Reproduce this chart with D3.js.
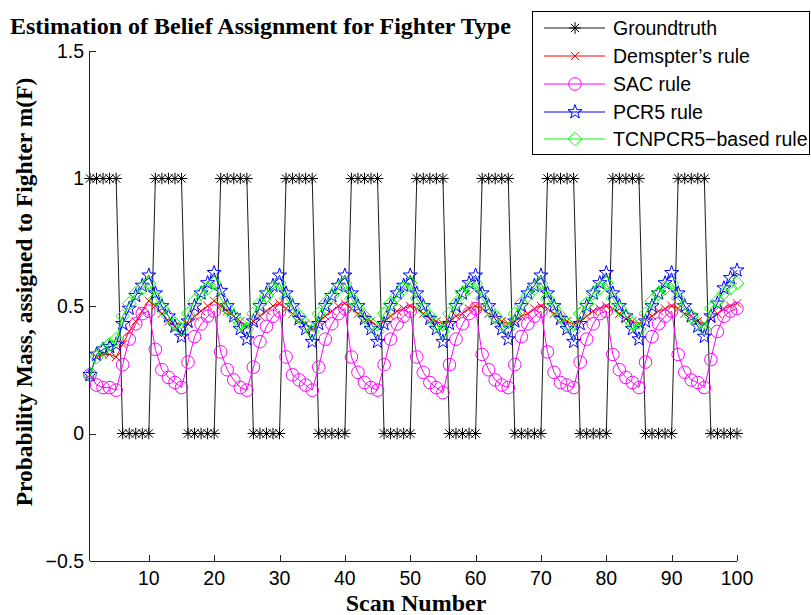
<!DOCTYPE html>
<html><head><meta charset="utf-8">
<script src="https://cdn.jsdelivr.net/npm/d3@7"></script>
<style>body{margin:0;background:#fff}svg{display:block}</style>
</head><body>
<svg id="c" width="811" height="615"></svg>
<script>
const scans = d3.range(1, 101);
const xTicks = [10,20,30,40,50,60,70,80,90,100];
const yTicks = [-0.5,0,0.5,1,1.5];
const yTickLabels = ["\u22120.5","0","0.5","1","1.5"];
const seriesNames = ["Groundtruth","Demspter\u2019s rule","SAC rule","PCR5 rule","TCNPCR5\u2212based rule"];

const groundtruth = [1,1,1,1,1,0,0,0,0,0, 1,1,1,1,1,0,0,0,0,0, 1,1,1,1,1,0,0,0,0,0, 1,1,1,1,1,0,0,0,0,0, 1,1,1,1,1,0,0,0,0,0,
  1,1,1,1,1,0,0,0,0,0, 1,1,1,1,1,0,0,0,0,0, 1,1,1,1,1,0,0,0,0,0, 1,1,1,1,1,0,0,0,0,0, 1,1,1,1,1,0,0,0,0,0];
const dempster = [0.23,0.30,0.31,0.31,0.30, 0.35,0.40,0.44,0.48,0.52, 0.50,0.47,0.44,0.42,0.39, 0.43,0.46,0.48,0.50,0.52,
  0.50,0.48,0.46,0.44,0.42, 0.44,0.46,0.48,0.50,0.51, 0.49,0.47,0.45,0.43,0.41, 0.44,0.46,0.48,0.50,0.51,
  0.49,0.47,0.45,0.44,0.42, 0.44,0.46,0.48,0.49,0.50, 0.49,0.47,0.45,0.44,0.43, 0.44,0.46,0.47,0.49,0.50,
  0.49,0.47,0.46,0.44,0.43, 0.44,0.46,0.47,0.49,0.50, 0.49,0.47,0.45,0.44,0.43, 0.44,0.46,0.48,0.49,0.50,
  0.49,0.47,0.45,0.44,0.43, 0.45,0.46,0.48,0.49,0.50, 0.49,0.47,0.46,0.44,0.43, 0.45,0.47,0.49,0.50,0.51];
const sac = [0.23,0.19,0.18,0.18,0.17, 0.27,0.37,0.43,0.47,0.48, 0.33,0.25,0.22,0.20,0.18, 0.28,0.38,0.43,0.46,0.48,
  0.32,0.25,0.21,0.18,0.17, 0.26,0.36,0.42,0.46,0.48, 0.30,0.23,0.21,0.19,0.17, 0.26,0.37,0.43,0.47,0.49,
  0.30,0.24,0.20,0.18,0.17, 0.27,0.37,0.43,0.46,0.48, 0.30,0.24,0.20,0.18,0.16, 0.27,0.37,0.43,0.47,0.49,
  0.31,0.25,0.21,0.19,0.18, 0.27,0.38,0.43,0.46,0.48, 0.32,0.24,0.20,0.19,0.18, 0.28,0.37,0.43,0.47,0.48,
  0.31,0.25,0.22,0.20,0.18, 0.28,0.38,0.43,0.46,0.48, 0.31,0.24,0.21,0.20,0.18, 0.29,0.40,0.46,0.48,0.49];
const pcr5 = [0.23,0.31,0.33,0.34,0.35, 0.43,0.49,0.54,0.58,0.62, 0.55,0.50,0.46,0.42,0.38, 0.44,0.50,0.55,0.59,0.63,
  0.56,0.50,0.46,0.41,0.37, 0.44,0.50,0.55,0.58,0.62, 0.55,0.50,0.45,0.41,0.36, 0.43,0.50,0.54,0.58,0.62,
  0.55,0.50,0.45,0.41,0.36, 0.43,0.50,0.55,0.58,0.62, 0.55,0.50,0.45,0.41,0.36, 0.43,0.50,0.55,0.59,0.62,
  0.55,0.50,0.45,0.41,0.37, 0.44,0.50,0.55,0.58,0.62, 0.55,0.50,0.45,0.41,0.36, 0.43,0.50,0.55,0.59,0.63,
  0.55,0.50,0.46,0.41,0.37, 0.44,0.50,0.55,0.59,0.63, 0.55,0.50,0.46,0.42,0.38, 0.46,0.51,0.57,0.61,0.64];
const tcnpcr5 = [0.23,0.30,0.33,0.35,0.37, 0.46,0.51,0.55,0.57,0.59, 0.53,0.49,0.46,0.43,0.41, 0.47,0.52,0.55,0.57,0.59,
  0.53,0.49,0.46,0.43,0.41, 0.47,0.51,0.54,0.57,0.59, 0.53,0.49,0.46,0.43,0.40, 0.47,0.51,0.54,0.57,0.59,
  0.53,0.49,0.46,0.43,0.40, 0.47,0.51,0.54,0.57,0.59, 0.53,0.49,0.46,0.43,0.40, 0.47,0.51,0.55,0.57,0.59,
  0.53,0.49,0.46,0.43,0.41, 0.47,0.51,0.54,0.57,0.59, 0.53,0.49,0.46,0.43,0.40, 0.47,0.51,0.55,0.57,0.59,
  0.53,0.49,0.46,0.43,0.41, 0.47,0.52,0.55,0.57,0.59, 0.53,0.49,0.46,0.43,0.41, 0.49,0.52,0.55,0.57,0.59];

const svg = d3.select("#c");
const x = d3.scaleLinear().domain([1,100]).range([90,737]);
const y = d3.scaleLinear().domain([-0.5,1.5]).range([561,51]);
const sans = "'Liberation Sans', Arial, Helvetica, sans-serif";
const serif = "'Liberation Serif', 'Times New Roman', serif";

const markers = {
  asterisk: s => `M${-s},0L${s},0M0,${-s}L0,${s}M${-s*0.72},${-s*0.72}L${s*0.72},${s*0.72}M${-s*0.72},${s*0.72}L${s*0.72},${-s*0.72}`,
  cross: s => `M${-s},${-s}L${s},${s}M${-s},${s}L${s},${-s}`,
  circle: s => `M${s},0A${s},${s},0,1,1,${-s},0A${s},${s},0,1,1,${s},0Z`,
  star: s => { let p=[]; for(let i=0;i<10;i++){const r=i%2===0?s:s*0.4; const a=-Math.PI/2+i*Math.PI/5; p.push([r*Math.cos(a), r*Math.sin(a)]);} return "M"+p.map(d=>d[0].toFixed(2)+","+d[1].toFixed(2)).join("L")+"Z"; },
  diamond: s => `M0,${-s}L${s},0L0,${s}L${-s},0Z`
};

const series = [
  {name: seriesNames[0], data: groundtruth, color: "#000000", marker: "asterisk", size: 5.8, lw: 0.9},
  {name: seriesNames[1], data: dempster, color: "#ff0000", marker: "cross", size: 4.2, lw: 1},
  {name: seriesNames[2], data: sac, color: "#ff00ff", marker: "circle", size: 6.3, lw: 1},
  {name: seriesNames[3], data: pcr5, color: "#0000ff", marker: "star", size: 7.4, lw: 1},
  {name: seriesNames[4], data: tcnpcr5, color: "#00ff00", marker: "diamond", size: 6.8, lw: 1}
];

const line = d3.line().x((d,i)=>x(scans[i])).y(d=>y(d));
const plot = svg.append("g");
series.forEach(s => {
  const g = plot.append("g");
  g.append("path").attr("d", line(s.data)).attr("fill","none").attr("stroke", s.color).attr("stroke-width", s.lw);
  g.selectAll("path.m").data(s.data).join("path").attr("class","m")
    .attr("transform",(d,i)=>`translate(${x(scans[i])},${y(d)})`)
    .attr("d", markers[s.marker](s.size)).attr("fill","none").attr("stroke", s.color).attr("stroke-width", 1);
});

const axes = svg.append("g").attr("stroke","#222").attr("stroke-width",1).attr("fill","none");
axes.append("line").attr("x1",x(1)).attr("x2",x(100)).attr("y1",y(-0.5)+0.5).attr("y2",y(-0.5)+0.5);
axes.append("line").attr("x1",x(1)-0.5).attr("x2",x(1)-0.5).attr("y1",y(-0.5)).attr("y2",y(1.5));
xTicks.forEach(t => axes.append("line").attr("x1",Math.round(x(t))+0.5).attr("x2",Math.round(x(t))+0.5).attr("y1",y(-0.5)).attr("y2",y(-0.5)-6));
yTicks.forEach(t => axes.append("line").attr("x1",x(1)).attr("x2",x(1)+6).attr("y1",Math.round(y(t))+0.5).attr("y2",Math.round(y(t))+0.5));

svg.append("g").selectAll("text").data(xTicks).join("text")
  .attr("x", d=>x(d)).attr("y", y(-0.5)+17).attr("dy","0.35em").attr("text-anchor","middle")
  .attr("font-family", sans).attr("font-size", 19.5).text(d=>d);
svg.append("g").selectAll("text").data(yTicks).join("text")
  .attr("x", x(1)-6).attr("y", d=>y(d)).attr("dy","0.35em").attr("text-anchor","end")
  .attr("font-family", sans).attr("font-size", 19.5).text((d,i)=>yTickLabels[i]);

svg.append("text").attr("x",10).attr("y",34).attr("font-family",serif).attr("font-weight","bold")
  .attr("font-size",24).text("Estimation of Belief Assignment for Fighter Type");
svg.append("text").attr("x",416).attr("y",611).attr("text-anchor","middle").attr("font-family",serif).attr("font-weight","bold")
  .attr("font-size",24).text("Scan Number");
svg.append("text").attr("transform",`translate(32,292) rotate(-90)`).attr("text-anchor","middle")
  .attr("font-family",serif).attr("font-weight","bold").attr("font-size",23.5).text("Probability Mass, assigned to Fighter m(F)");

const lg = svg.append("g");
lg.append("rect").attr("x",532.5).attr("y",11.5).attr("width",277).attr("height",143).attr("fill","#fff").attr("stroke","#000").attr("stroke-width",1);
const rowY = [28,56,84,112,139];
series.forEach((s,i) => {
  lg.append("line").attr("x1",544).attr("x2",605).attr("y1",rowY[i]).attr("y2",rowY[i]).attr("stroke",s.color).attr("stroke-width",s.lw);
  lg.append("path").attr("transform",`translate(575,${rowY[i]})`).attr("d", markers[s.marker](s.size)).attr("fill","none").attr("stroke",s.color);
  lg.append("text").attr("x",613).attr("y",rowY[i]).attr("dy","0.35em").attr("font-family",sans).attr("font-size",19.5).text(s.name);
});
</script>
</body></html>
